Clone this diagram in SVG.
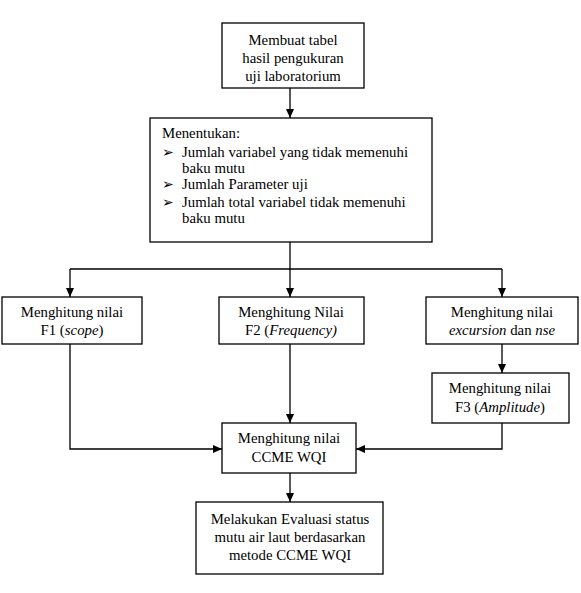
<svg xmlns="http://www.w3.org/2000/svg" width="581" height="593" viewBox="0 0 581 593" font-family="'Liberation Serif', 'Times New Roman', serif" font-size="14.8">
<style>
rect{fill:#fff;stroke:#000;stroke-width:1.3}
text{fill:#000}
.c{text-anchor:middle}
.ln{fill:none;stroke:#000;stroke-width:1.3}
.b{font-family:'DejaVu Sans',sans-serif;font-size:14px}
</style>
<defs>
<marker id="ah" markerWidth="10" markerHeight="10" refX="9" refY="5" orient="auto" markerUnits="userSpaceOnUse">
<path d="M0,1 L9,5 L0,9 Z" fill="#000"/>
</marker>
</defs>
<g id="connectors">
<path class="ln" d="M290,88 V118" marker-end="url(#ah)"/>
<path class="ln" d="M290,242 V297" marker-end="url(#ah)"/>
<path class="ln" d="M70,269 H502"/>
<path class="ln" d="M70,269 V297" marker-end="url(#ah)"/>
<path class="ln" d="M502,269 V297" marker-end="url(#ah)"/>
<path class="ln" d="M502,344 V373" marker-end="url(#ah)"/>
<path class="ln" d="M290,344 V423" marker-end="url(#ah)"/>
<path class="ln" d="M70,344 V449 H222" marker-end="url(#ah)"/>
<path class="ln" d="M502,423 V449 H356" marker-end="url(#ah)"/>
<path class="ln" d="M290,473 V502" marker-end="url(#ah)"/>
</g>
<g id="n1">
<rect x="222" y="23" width="142" height="65"/>
<text class="c" x="293" y="45">Membuat tabel</text>
<text class="c" x="293" y="63">hasil pengukuran</text>
<text class="c" x="293" y="81">uji laboratorium</text>
</g>
<g id="n2">
<rect x="150" y="118" width="282" height="124"/>
<text x="162" y="138">Menentukan:</text>
<text class="b" x="162" y="157">➢</text>
<text x="182" y="157">Jumlah variabel yang tidak memenuhi</text>
<text x="182" y="173">baku mutu</text>
<text class="b" x="162" y="189">➢</text>
<text x="182" y="189">Jumlah Parameter uji</text>
<text class="b" x="162" y="207">➢</text>
<text x="182" y="207">Jumlah total variabel tidak memenuhi</text>
<text x="182" y="223">baku mutu</text>
</g>
<g id="n3">
<rect x="2" y="297" width="140" height="47"/>
<text class="c" x="72" y="317">Menghitung nilai</text>
<text class="c" x="72" y="335">F1 (<tspan font-style="italic">scope</tspan>)</text>
</g>
<g id="n4">
<rect x="219" y="297" width="145" height="47"/>
<text class="c" x="291" y="317">Menghitung Nilai</text>
<text class="c" x="291" y="335">F2 (<tspan font-style="italic">Frequency)</tspan></text>
</g>
<g id="n5">
<rect x="426" y="297" width="152" height="47"/>
<text class="c" x="502" y="317">Menghitung nilai</text>
<text class="c" x="502" y="335"><tspan font-style="italic">excursion</tspan> dan <tspan font-style="italic">nse</tspan></text>
</g>
<g id="n6">
<rect x="432" y="373" width="137" height="50"/>
<text class="c" x="500" y="393">Menghitung nilai</text>
<text class="c" x="500" y="412">F3 (<tspan font-style="italic">Amplitude</tspan>)</text>
</g>
<g id="n7">
<rect x="222" y="423" width="134" height="50"/>
<text class="c" x="289" y="443">Menghitung nilai</text>
<text class="c" x="289" y="462">CCME WQI</text>
</g>
<g id="n8">
<rect x="196" y="502" width="187" height="72"/>
<text class="c" x="290" y="524">Melakukan Evaluasi status</text>
<text class="c" x="290" y="542">mutu air laut berdasarkan</text>
<text class="c" x="290" y="560">metode CCME WQI</text>
</g>
</svg>
